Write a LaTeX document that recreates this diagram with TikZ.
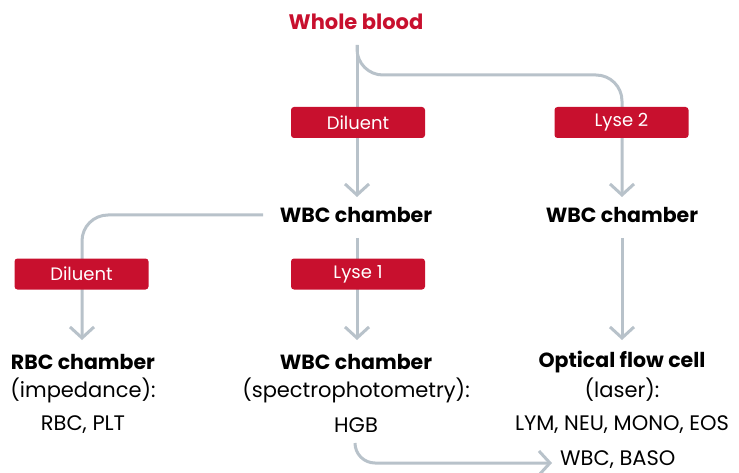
\documentclass[tikz,border=0pt]{standalone}
\usepackage{fontspec}
\setmainfont{Poppins}
\usetikzlibrary{arrows.meta,calc}
\definecolor{brandred}{HTML}{C8102E}
\definecolor{flowgrey}{HTML}{B8C2CA}
\begin{document}
\begin{tikzpicture}[x=1pt,y=-1pt,
  flow/.style={draw=flowgrey,line width=3pt,rounded corners=26pt,
    -{Straight Barb[length=11pt,width=24pt,line width=3pt]}},
  reagent/.style={fill=brandred,rounded corners=3pt,minimum width=134pt,minimum height=31pt,
    inner sep=0pt,text=white,font=\fontsize{18}{20}\selectfont},
  title/.style={font=\bfseries\fontsize{20.5}{22}\selectfont,inner sep=0pt},
  sub/.style={font=\fontsize{21}{23}\selectfont,inner sep=0pt}]
\useasboundingbox (0,0) rectangle (739,473);
% nodes
\node[title,text=brandred,font=\bfseries\fontsize{21}{23}\selectfont] (whole) at (356,22) {Whole blood};
\node[title] (wbcA) at (356,215) {WBC chamber};
\node[title] (wbcB) at (622,215) {WBC chamber};
\node[title] (rbc) at (83,362) {RBC chamber};
\node[sub] (imp) at (83,390) {(impedance):};
\node[sub] (rbcres) at (83,425) {RBC, PLT};
\node[title] (wbcC) at (356,362) {WBC chamber};
\node[sub] (spec) at (356,390) {(spectrophotometry):};
\node[sub] (hgb) at (356,425) {HGB};
\node[title] (opt) at (622,362) {Optical flow cell};
\node[sub] (laser) at (622,390) {(laser):};
\node[sub] (lym) at (622,425) {LYM, NEU, MONO, EOS};
\node[sub,anchor=west] (baso) at (560,460) {WBC, BASO};
% coordinates
\coordinate (ws) at (357,45);
\coordinate (wt) at (357,197);
\coordinate (j1) at (622,75);
\coordinate (rt) at (622,197);
\coordinate (as) at (263,215);
\coordinate (at) at (82,340);
\coordinate (bs) at (357,238);
\coordinate (bt) at (357,340);
\coordinate (cs) at (622,238);
\coordinate (ct) at (622,340);
\coordinate (hs) at (355,443);
\coordinate (ht) at (552,463);
% connectors
\draw[flow] (ws) -- (wt);
\draw[flow] (ws) |- (j1) -- (rt);
\draw[flow] (as) -| (at);
\draw[flow] (bs) -- (bt);
\draw[flow] (cs) -- (ct);
\draw[flow,rounded corners=20pt] (hs) |- (ht);
% reagent boxes
\node[reagent] (dil1) at (358,122.5) {Diluent};
\node[reagent] (lyse2) at (621.5,122.5) {Lyse 2};
\node[reagent] (dil2) at (81.5,274) {Diluent};
\node[reagent] (lyse1) at (358,274) {Lyse 1};
\end{tikzpicture}
\end{document}
